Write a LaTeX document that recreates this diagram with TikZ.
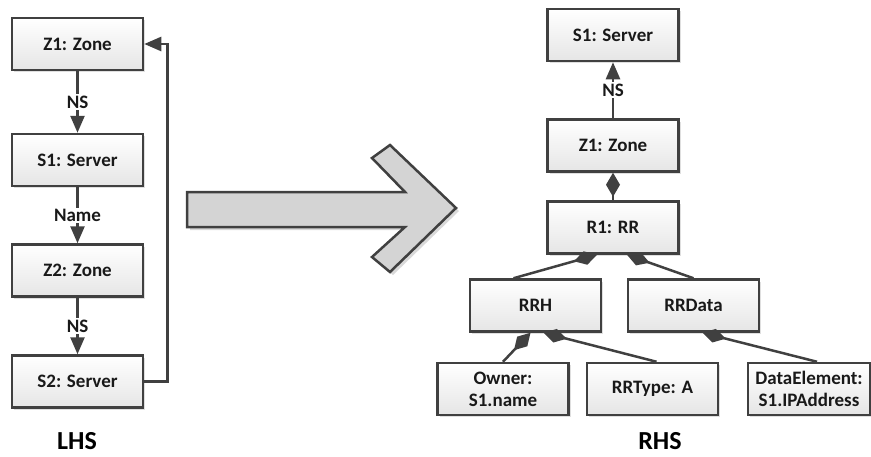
\documentclass[tikz,border=0pt]{standalone}
\usepackage{fontspec}
\setmainfont{Carlito}
\usetikzlibrary{arrows.meta,shadows}
\definecolor{linegray}{HTML}{404040}
\definecolor{arrowfill}{HTML}{D4D4D4}
\begin{document}
\begin{tikzpicture}
	[
	x=1pt, y=-1pt,
	box/.style={draw=linegray, line width=2.5pt, top color=white, bottom color=black!10,
		minimum width=131pt, minimum height=52pt, align=center, text=black!90,
		font=\fontsize{19}{22}\selectfont\bfseries,
		drop shadow={shadow xshift=2pt, shadow yshift=-2pt, opacity=0.25}},
	lbl/.style={fill=white, inner sep=1.5pt, text=black!90, font=\fontsize{19}{22}\selectfont\bfseries},
	assoc/.style={draw=linegray, line width=2.5pt, -{Triangle[length=17pt,width=14pt]}},
	comp/.style={draw=linegray, line width=2.5pt, {Diamond[length=24pt,width=14pt]}-},
	side/.style={inner sep=0pt, font=\fontsize{26}{28}\selectfont\bfseries}
	]
		\useasboundingbox (0,0) rectangle (871,456);
		
		% left hand side
		\node [box] (lz1) at (77.5, 44) {Z1: Zone};
		\node [box] (ls1) at (77.5, 160) {S1: Server};
		\node [box] (lz2) at (77.5, 270.5) {Z2: Zone};
		\node [box] (ls2) at (77.5, 381.5) {S2: Server};
		\node [side] (lhs) at (77, 441) {LHS};
		
		% transformation arrow
		\fill [black, opacity=0.15] (190,195) -- (408,195) -- (375,161) -- (393,148) -- (459,211) -- (393,275) -- (375,260) -- (408,230) -- (190,230) -- cycle;
		\draw [draw=linegray, fill=arrowfill, line width=2.5pt, line join=miter]
			(187,192) -- (405,192) -- (372,158) -- (390,145) -- (456,208) -- (390,272) -- (372,257) -- (405,227) -- (187,227) -- cycle;
		
		% right hand side, level 1
		\node [box] (rs1) at (613, 35) {S1: Server};
		\node [box] (rz1) at (613, 145.5) {Z1: Zone};
		\node [box] (rr1) at (613, 227.5) {R1: RR};
		
		% level 2
		\node [box] (rrh) at (535.5, 305.5) {RRH};
		\node [box] (rrdata) at (693.5, 305.5) {RRData};
		
		% level 3
		\node [box] (owner) at (503, 389) {Owner:\\S1.name};
		\node [box] (rrtype) at (652.5, 389) {RRType: A};
		\node [box, minimum width=122pt] (dataelem) at (809, 389) {DataElement:\\S1.IPAddress};
		\node [side] (rhs) at (660, 441) {RHS};
		
		% drawing code
		\draw [assoc] (lz1) -- node [lbl] {NS} (ls1);
		\draw [assoc] (ls1) -- node [lbl] {Name} (lz2);
		\draw [assoc] (lz2) -- node [lbl] {NS} (ls2);
		\draw [assoc] (ls2.east) -- ++(23,0) |- (lz1.east);
		\draw [assoc] (rz1) -- node [lbl] {NS} (rs1);
		\draw [comp] (rz1) -- (rr1);
		\draw [comp] ([xshift=-16pt]rr1.south) -- ([xshift=-22pt]rrh.north);
		\draw [comp] ([xshift=14pt]rr1.south) -- (rrdata.north);
		\draw [comp] ([xshift=-5pt]rrh.south) -- (owner.north);
		\draw [comp] ([xshift=8pt]rrh.south) -- ([xshift=4pt]rrtype.north);
		\draw [comp] ([xshift=9pt]rrdata.south) -- ([xshift=8pt]dataelem.north);
	\end{tikzpicture}
\end{document}
